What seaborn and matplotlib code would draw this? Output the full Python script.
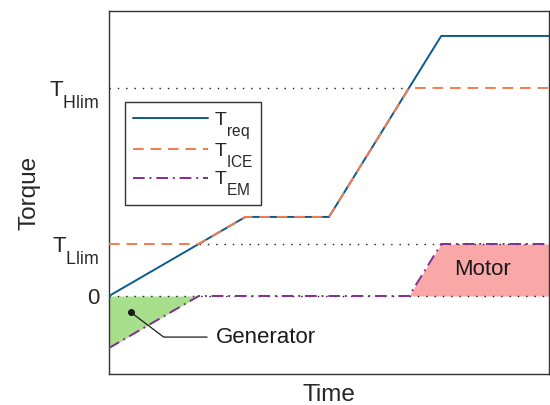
import matplotlib
matplotlib.use("Agg")
import matplotlib.pyplot as plt
import seaborn as sns
import numpy as np

try:
    import matplotlib._mathtext as _mt
    _mt.SHRINK_FACTOR = 0.8
    _mt.FontConstantsBase.sub1 = 1.0
except Exception:
    pass

sns.set_theme(style="white")
plt.rcParams['font.family'] = ['Liberation Sans', 'DejaVu Sans']

# ---- data ----
t_req = [0, 3.1, 5.0, 7.55, 10]
treq = [0, 1.52, 1.52, 5.0, 5.0]
t_ice = [0, 2.04, 3.1, 5.0, 6.82, 10]
tice = [1, 1, 1.52, 1.52, 4.0, 4.0]
t_em = [0, 2.04, 6.82, 7.55, 10]
tem = [-1, 0, 0, 1, 1]
T_LLIM = 1.0
T_HLIM = 4.0
ytick_vals = [0, T_LLIM, T_HLIM]
ytick_labels = ['0', r'T$_\mathregular{Llim}$', r'T$_\mathregular{Hlim}$']
series_labels = [r'T$_\mathregular{req}$', r'T$_\mathregular{ICE}$', r'T$_\mathregular{EM}$']

c_req = '#0b5a8e'
c_ice = '#f27d4e'
c_em = '#7e2f8e'
c_gen = '#a8df8c'
c_mot = '#faa7a7'
txt = '#262626'

fig = plt.figure(figsize=(5.5, 4.05), dpi=100)
ax = fig.add_axes([109/550, 31/405, 440/550, 363/405])

t_em_a = np.array(t_em, float)
tem_a = np.array(tem, float)
ax.fill_between(t_em_a, tem_a, 0, where=tem_a <= 0, color=c_gen, lw=0, zorder=1)
ax.fill_between(t_em_a, tem_a, 0, where=tem_a >= 0, color=c_mot, lw=0, zorder=1)

dot = (0, (1, 5))
ax.hlines(0, 0, 10, colors='k', linestyles=dot, lw=1, zorder=2)
ax.hlines(T_LLIM, t_ice[1], 10, colors='k', linestyles=dot, lw=1, zorder=2)
ax.hlines(T_HLIM, 0, t_ice[4], colors='k', linestyles=dot, lw=1, zorder=2)

sns.lineplot(x=t_req, y=treq, ax=ax, color=c_req, lw=1.4, estimator=None,
             label=series_labels[0], zorder=3)
sns.lineplot(x=t_ice, y=tice, ax=ax, color=c_ice, lw=1.4, estimator=None,
             linestyle=(0, (5.5, 3.5)), label=series_labels[1], zorder=4)
sns.lineplot(x=t_em, y=tem, ax=ax, color=c_em, lw=1.4, estimator=None,
             linestyle=(0, (6, 2.5, 1, 2.5)), label=series_labels[2], zorder=4)

ax.set_xlim(0, 10)
ax.set_ylim(-1.5, 5.48)
ax.set_xticks([])
ax.set_yticks(ytick_vals)
ax.set_yticklabels(ytick_labels, fontsize=16, color=txt)
ax.tick_params(axis='y', length=0, pad=7)
for s in ax.spines.values():
    s.set_color('#333333')
    s.set_linewidth(1.0)
    s.set_visible(True)

ax.set_xlabel('Time', fontsize=17.5, color=txt, labelpad=7)
ax.set_ylabel('Torque', fontsize=17.5, color=txt, labelpad=6)

leg = ax.legend(loc='upper left', bbox_to_anchor=(0.036, 0.749), borderaxespad=0,
                fontsize=14, frameon=True, fancybox=False, handlelength=3.9,
                handletextpad=0.3, labelspacing=0.02, borderpad=0.4)
leg.get_frame().set_edgecolor('#333333')
leg.get_frame().set_linewidth(1.0)
leg.get_frame().set_alpha(1)
leg.set_zorder(6)

# annotations
ax.plot([0.49], [-0.31], marker='o', color='k', ms=4, zorder=5)
ax.annotate('Generator', xy=(0.49, -0.31), xytext=(2.43, -0.79),
            fontsize=16, color='k', va='center', ha='left',
            arrowprops=dict(arrowstyle='-', color='k', lw=0.9,
                            connectionstyle='angle,angleA=0,angleB=-37,rad=0',
                            shrinkA=4, shrinkB=0), zorder=5)
ax.text(8.5, 0.5, 'Motor', fontsize=16, color='k', ha='center', va='center', zorder=5)

fig.savefig('out.png', dpi=100)
